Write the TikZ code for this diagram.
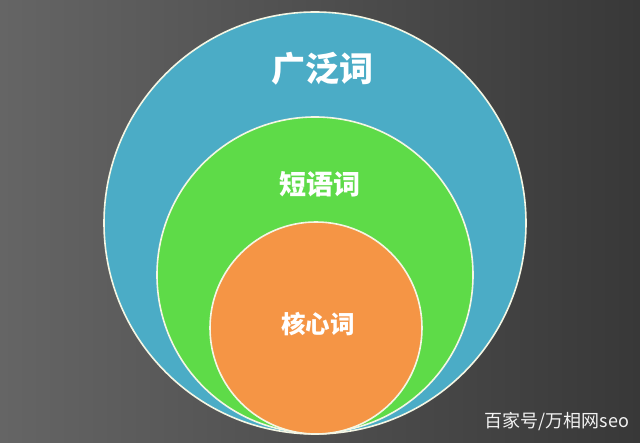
\documentclass[tikz,border=0pt]{standalone}
\usepackage{fontspec}
\usepackage{xcolor}
\usepackage{tikz}
\usetikzlibrary{positioning,calc}
\newfontfamily\cjk{Noto Sans CJK SC}
\definecolor{bgLight}{HTML}{656565}
\definecolor{bgDark}{HTML}{383838}
\definecolor{broadBlue}{HTML}{4BACC6}
\definecolor{phraseGreen}{HTML}{5EDB48}
\definecolor{coreOrange}{HTML}{F59545}
\definecolor{rimWhite}{HTML}{F4F6E4}

\begin{document}
\begin{tikzpicture}[x=1pt, y=1pt,
    ring/.style={circle, draw=rimWhite, line width=1.6pt, inner sep=0pt, outer sep=0pt},
    word/.style={text=white, inner sep=0pt, font=\cjk\bfseries}]
    \useasboundingbox (0,0) rectangle (640,442);
    \shade[left color=bgLight, right color=bgDark] (0,0) rectangle (640,442);

    \node[ring, fill=broadBlue, minimum size=422pt] (broad) at (315,219) {};
    \node[ring, fill=phraseGreen, minimum size=316pt] (phrase) at (315,167) {};
    \node[ring, fill=coreOrange, minimum size=212pt] (core) at (316,114) {};

    \node[word, font=\cjk\bfseries\fontsize{34pt}{34pt}\selectfont] (broadtxt) at (322,373) {广泛词};
    \node[word, font=\cjk\bfseries\fontsize{27pt}{27pt}\selectfont] (phrasetxt) at (320,258) {短语词};
    \node[word, font=\cjk\bfseries\fontsize{24.5pt}{24.5pt}\selectfont] (coretxt) at (318,118) {核心词};

    \node[text=white!90!gray, inner sep=0pt, font=\cjk\fontsize{18pt}{18pt}\selectfont] (mark) at (557,21) {百家号/万相网seo};
\end{tikzpicture}
\end{document}
